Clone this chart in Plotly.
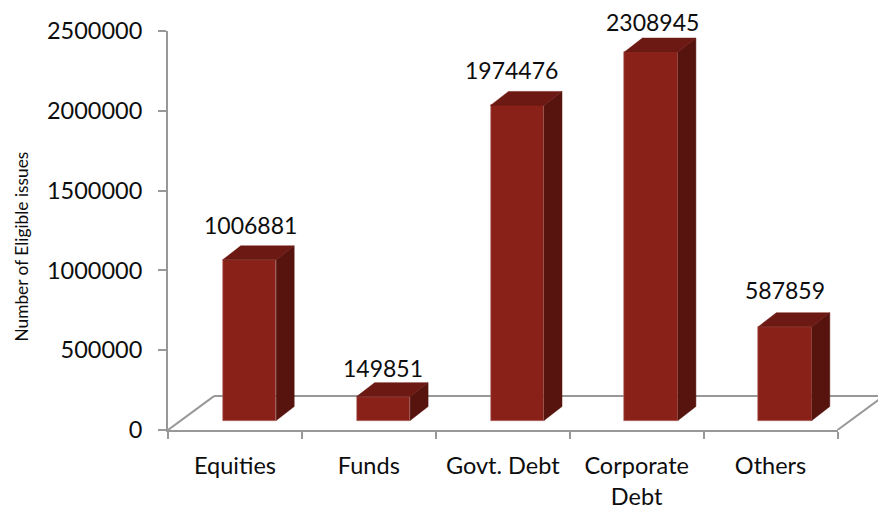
import plotly.graph_objects as go

categories = ["Equities", "Funds", "Govt. Debt", "Corporate<br>Debt", "Others"]
values = [1006881, 149851, 1974476, 2308945, 587859]
y_ticks = [0, 500000, 1000000, 1500000, 2000000, 2500000]
y_title = "Number of Eligible issues"

# Page geometry (pixels)
W, H = 878, 510
LEFT, RIGHT_AXIS, RIGHT = 168, 837.5, 878
TOP, BOTTOM = 30.5, 430.5
Y_MAX = 2500000
PITCH = (RIGHT_AXIS - LEFT) / 5
UY = Y_MAX / (BOTTOM - TOP)   # data units per pixel, vertical
UX = 1 / PITCH                # data units per pixel, horizontal

bar_lift = 9.5 * UY
bar_shift = 14.5 * UX
bar_w = 53.5 * UX
dx, dy = 18 * UX, 14 * UY
floor_dx, floor_dy = 46 * UX, 34 * UY

FONT = "Lato, Carlito, Calibri, sans-serif"
GREY = "#989898"
INK = "#0d0d0d"
FRONT, TOP_C, SIDE = "#8A2119", "#6C1913", "#57140F"

idx = list(range(len(values)))
centers = [i + bar_shift for i in idx]
x0 = -0.5
x_end = x0 + (RIGHT - LEFT) * UX


def faces(kind):
    xs, ys = [], []
    for c, v in zip(centers, values):
        l, r = c - bar_w / 2, c + bar_w / 2
        t = v + bar_lift
        if kind == "top":
            xs += [l, r, r + dx, l + dx, l, None]
            ys += [t, t, t + dy, t + dy, t, None]
        else:
            xs += [r, r + dx, r + dx, r, r, None]
            ys += [bar_lift, bar_lift + dy, t + dy, t, bar_lift, None]
    return xs, ys


fig = go.Figure()
fig.add_trace(go.Bar(x=centers, y=values, base=bar_lift, width=bar_w,
                     marker=dict(color=FRONT, line=dict(color="#B5726B", width=0.6)),
                     showlegend=False, hoverinfo="skip"))
for kind, col in (("side", SIDE), ("top", TOP_C)):
    xs, ys = faces(kind)
    fig.add_trace(go.Scatter(x=xs, y=ys, mode="lines", fill="toself", fillcolor=col,
                             line=dict(color=col, width=0.5), showlegend=False, hoverinfo="skip"))

# Invisible trace that carries the category axis
fig.add_trace(go.Scatter(x=categories, y=[0] * 5, xaxis="x2", mode="markers",
                         marker=dict(opacity=0), showlegend=False, hoverinfo="skip"))

# Data labels (y is plot-area fraction, so labels may rise above the axis maximum)
label_nudge_x = [1.5, -0.5, -6, 1, 0]
label_nudge_y = [21, 15, 21, 16, 23]
annotations = [
    dict(x=c + nx * UX, y=(v + bar_lift + dy + ny * UY) / Y_MAX, xref="x", yref="paper",
         text=str(v), showarrow=False, xanchor="center", yanchor="middle",
         font=dict(family=FONT, size=23, color=INK))
    for c, v, nx, ny in zip(centers, values, label_nudge_x, label_nudge_y)
]
annotations.append(dict(
    x=(21 - LEFT) / (RIGHT - LEFT), y=(BOTTOM - 246.5) / (BOTTOM - TOP),
    xref="paper", yref="paper",
    text=y_title, textangle=-90, showarrow=False, xanchor="center", yanchor="middle",
    font=dict(family=FONT, size=17.3, color=INK)))

floor_line = dict(color=GREY, width=2)
e = RIGHT_AXIS - LEFT
xr = x0 + e * UX
shapes = [
    dict(type="line", layer="below", xref="x", yref="y", x0=x0, y0=0, x1=x0 + floor_dx, y1=floor_dy, line=floor_line),
    dict(type="line", layer="below", xref="x", yref="y", x0=x0 + floor_dx, y0=floor_dy, x1=x_end + 2 * UX, y1=floor_dy, line=floor_line),
    dict(type="line", layer="below", xref="x", yref="y", x0=xr, y0=0, x1=xr + floor_dx, y1=floor_dy, line=floor_line),
]

fig.update_layout(
    width=W, height=H, autosize=False,
    margin=dict(l=LEFT, r=W - RIGHT, t=TOP, b=H - BOTTOM, pad=0),
    paper_bgcolor="white", plot_bgcolor="rgba(0,0,0,0)",
    font=dict(family=FONT, color=INK),
    shapes=shapes, annotations=annotations, bargap=0,
    xaxis=dict(domain=[0, 1], range=[x0, x_end], visible=False, fixedrange=True),
    xaxis2=dict(domain=[0, e / (RIGHT - LEFT)], anchor="y", type="category",
                categoryorder="array", categoryarray=categories, range=[-0.5, 4.5],
                tickson="boundaries", ticks="outside", ticklen=7, tickwidth=2, tickcolor=GREY,
                showline=True, linecolor=GREY, linewidth=2, showgrid=False, zeroline=False,
                tickfont=dict(family=FONT, size=23.5, color=INK), tickangle=0,
                ticklabelstandoff=14, fixedrange=True),
    yaxis=dict(range=[0, Y_MAX], tickvals=y_ticks, ticktext=[str(t) for t in y_ticks],
               ticks="outside", ticklen=8, tickwidth=2, tickcolor=GREY,
               showline=True, linecolor=GREY, linewidth=2, showgrid=False, zeroline=False,
               tickfont=dict(family=FONT, size=23.5, color=INK),
               ticklabelstandoff=11, fixedrange=True),
)

fig.write_html("out.html", config=dict(displayModeBar=False),
               post_script="document.body.style.margin='0';document.documentElement.style.overflow='hidden';"
                           "var s=document.createElement('style');s.textContent='text{font-variant-ligatures:none;}';"
                           "document.head.appendChild(s);")
